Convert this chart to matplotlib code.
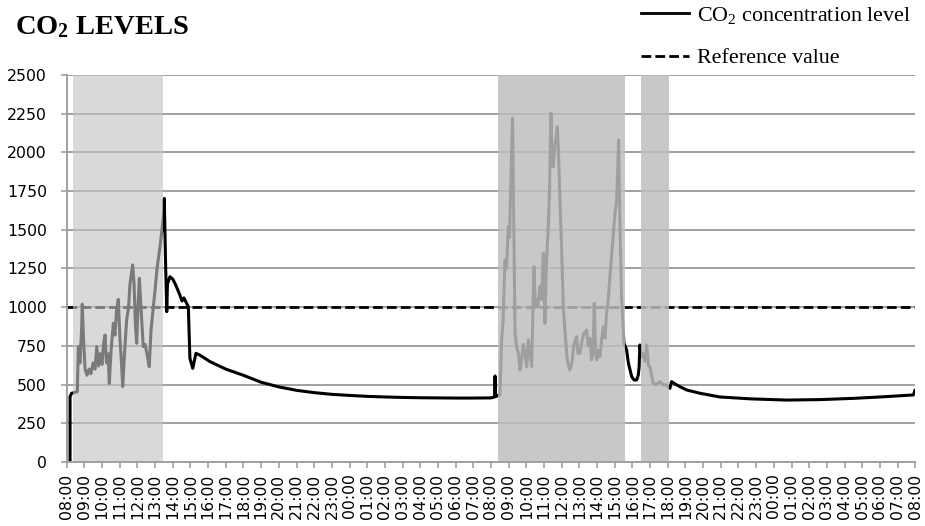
import matplotlib
matplotlib.use("Agg")
import matplotlib.pyplot as plt
from matplotlib.lines import Line2D

plt.rcParams['mathtext.fontset'] = 'custom'
plt.rcParams['mathtext.rm'] = 'Liberation Serif'
plt.rcParams['mathtext.it'] = 'Liberation Serif:italic'
plt.rcParams['mathtext.bf'] = 'Liberation Serif:bold'

# ---- data -------------------------------------------------------------
# hours elapsed since 08:00 of day 1
hours = [
    0.19, 0.19, 0.28, 0.60, 0.66, 0.75, 0.85, 0.88, 0.95, 1.04, 1.15, 1.26, 1.37, 1.49,
    1.60, 1.70, 1.80, 1.88, 2.00, 2.08, 2.17, 2.25, 2.34, 2.41, 2.51, 2.64, 2.73, 2.82,
    2.92, 3.01, 3.10, 3.17, 3.27, 3.39, 3.50, 3.58, 3.73, 3.81, 3.89, 3.96, 4.03, 4.11,
    4.20, 4.33, 4.43, 4.54, 4.67, 4.77, 4.90, 4.99, 5.11, 5.28, 5.39, 5.48, 5.52, 5.59,
    5.66, 5.70, 5.84, 6.01, 6.18, 6.40, 6.52, 6.63, 6.88, 6.97, 7.13, 7.31, 7.54, 8.11,
    9.00, 10.0, 11.0, 12.0, 13.0, 14.0, 15.0, 16.0, 17.0, 18.0, 19.0, 20.0, 21.0, 22.0,
    23.0, 24.0, 24.20, 24.23, 24.26, 24.45,
    24.51, 24.60, 24.68, 24.79, 24.88, 24.98, 25.05, 25.11, 25.22, 25.30, 25.36, 25.45,
    25.55, 25.64, 25.72, 25.83, 25.92, 26.02, 26.11, 26.21, 26.30, 26.43, 26.51, 26.58,
    26.65, 26.77, 26.86, 26.96, 27.01, 27.05, 27.14, 27.24, 27.31, 27.39, 27.45, 27.52,
    27.62, 27.75, 27.82, 27.90, 27.99, 28.09, 28.18, 28.31, 28.46, 28.58, 28.69, 28.84,
    28.92, 29.03, 29.14, 29.26, 29.41, 29.49, 29.60, 29.69, 29.77, 29.84, 29.91, 29.98,
    30.08, 30.16, 30.25, 30.35, 30.45, 30.53, 30.63, 30.73, 30.92, 31.01, 31.11, 31.22,
    31.30, 31.39, 31.52, 31.67, 31.77, 31.96, 32.09, 32.24, 32.33, 32.38, 32.42, 32.51,
    32.61, 32.71, 32.81, 32.91, 32.99, 33.08, 33.18, 33.33, 33.56, 33.73, 33.94, 34.12,
    34.21, 34.40, 34.68, 35.07, 35.82, 36.95, 38.65, 40.72, 42.61, 44.49, 46.00, 47.41,
    47.89, 47.98,
]
co2 = [
    0, 422, 444, 454, 745, 640, 874, 1020, 800, 600, 560, 600, 570, 640,
    600, 745, 620, 700, 630, 760, 820, 640, 700, 508, 720, 896, 820, 980,
    1051, 800, 640, 487, 700, 917, 1000, 1150, 1273, 1150, 880, 767, 1000, 1187,
    1000, 745, 760, 700, 616, 850, 1003, 1100, 1250, 1391, 1500, 1600, 1703, 1300,
    971, 1150, 1197, 1180, 1140, 1079, 1040, 1060, 1003, 670, 605, 702, 690, 648,
    600, 560, 515, 485, 463, 448, 437, 430, 424, 420, 417, 415, 414, 413,
    413, 414, 420, 556, 422, 433,
    433, 788, 900, 1305, 1250, 1520, 1450, 1757, 2220, 1400, 831, 745,
    700, 594, 650, 760, 700, 616, 788, 700, 616, 1262, 1000, 1047,
    1000, 1133, 1050, 1348, 1100, 896, 1300, 1520, 1750, 2253, 1950, 1908,
    2050, 2166, 2000, 1693, 1400, 1003, 850, 659, 594, 640, 760, 810,
    700, 702, 780, 830, 853, 750, 800, 659, 700, 1025, 750, 660,
    720, 680, 780, 874, 800, 950, 1047, 1200, 1477, 1600, 1693, 2080,
    1500, 1047, 767, 724, 640, 551, 530, 530, 560, 616, 756, 680,
    702, 650, 756, 620, 616, 560, 508, 500, 519, 500, 497, 476,
    519, 505, 487, 465, 444, 420, 408, 400, 403, 411, 420, 430,
    433, 462,
]
reference_value = 1000

# shaded periods (start hour, end hour)
light_period_start = [0.36]
light_period_end = [5.43]
dark_period_start = [24.41, 32.48]
dark_period_end = [31.58, 34.07]

tick_labels = ['%02d:00' % ((8 + i) % 24) for i in range(49)]
y_ticks = list(range(0, 2501, 250))

# ---- figure -----------------------------------------------------------
fig = plt.figure(figsize=(9.25, 5.26), dpi=100)
ax = fig.add_axes([0.0721, 0.1217, 0.9174, 0.7357])

ax.plot(hours, co2, color='black', lw=2.2, solid_joinstyle='round', zorder=2)
ax.axhline(reference_value, color='black', lw=2.0, dashes=(3.5, 1.5), zorder=2)

for s, e in zip(light_period_start, light_period_end):
    ax.axvspan(s, e, color=(195/255, 195/255, 195/255), alpha=0.627, lw=0, zorder=3)
for s, e in zip(dark_period_start, dark_period_end):
    ax.axvspan(s, e, color=(190/255, 190/255, 190/255), alpha=0.843, lw=0, zorder=3)

ax.set_xlim(0, 48)
ax.set_ylim(0, 2500)
ax.set_xticks(range(49))
ax.set_xticklabels(tick_labels, rotation=90, fontsize=11.3, family='DejaVu Sans')
ax.set_yticks(y_ticks)
ax.set_yticklabels([str(v) for v in y_ticks], fontsize=11.3, family='DejaVu Sans')

ax.set_axisbelow(True)
ax.yaxis.grid(True, color='#a0a0a0', lw=1.4)
ax.xaxis.grid(False)
for side in ('top', 'right'):
    ax.spines[side].set_visible(False)
for side in ('left', 'bottom'):
    ax.spines[side].set_color('#a0a0a0')
    ax.spines[side].set_linewidth(1.4)
    ax.spines[side].set_zorder(4)
ax.tick_params(axis='both', colors='#a0a0a0', width=1.2, length=4.3, labelcolor='black')
ax.tick_params(axis='x', pad=4)
ax.tick_params(axis='y', pad=10)

fig.text(15/925, 1 - 34/526, r'CO$_\mathbf{2}$ LEVELS', fontsize=20.5,
         family='Liberation Serif', weight='bold', va='baseline', ha='left')

handles = [Line2D([], [], color='black', lw=2.0),
           Line2D([], [], color='black', lw=2.0, dashes=(3.5, 1.5))]
labels = [r'CO$_2$ concentration level', 'Reference value']
fig.legend(handles, labels, loc='upper left', bbox_to_anchor=(641/925, 1 - 5/526),
           frameon=False, prop={'family': 'Liberation Serif', 'size': 15.8},
           handlelength=2.2, handletextpad=0.35, labelspacing=1.0,
           borderpad=0, borderaxespad=0)

fig.savefig('out.png', dpi=100)
